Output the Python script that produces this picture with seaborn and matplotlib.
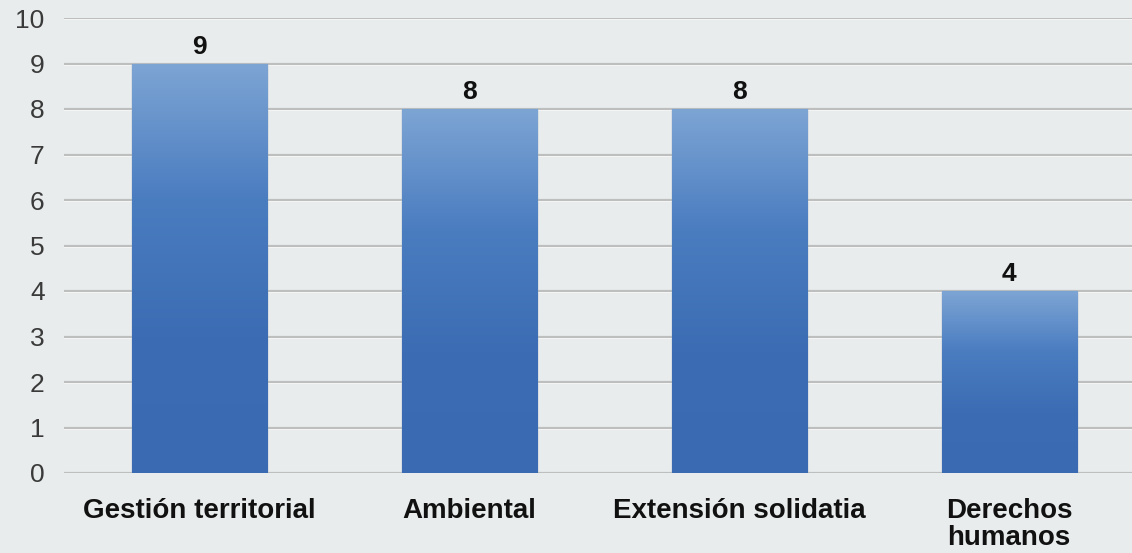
import numpy as np
import pandas as pd
import matplotlib
matplotlib.use("Agg")
import matplotlib.pyplot as plt
import seaborn as sns
from matplotlib.colors import LinearSegmentedColormap

categories = ["Gestión territorial", "Ambiental", "Extensión solidatia", "Derechos\nhumanos"]
values = [9, 8, 8, 4]
yticks = list(range(0, 11))

sns.set_theme(style="white")
plt.rcParams['font.family'] = ['Liberation Sans', 'DejaVu Sans']

bg = "#e8ecec"
fig = plt.figure(figsize=(11.32, 5.53), dpi=100, facecolor=bg)
ax = fig.add_axes([64/1132, 1 - 473/553, (1132 - 64)/1132, (473 - 18)/553])
ax.set_facecolor(bg)

df = pd.DataFrame({"cat": categories, "val": values})
sns.barplot(data=df, x="cat", y="val", ax=ax, width=0.5, color="#4a7bbf",
            edgecolor="#8fa8c8", linewidth=1, zorder=3)

cmap = LinearSegmentedColormap.from_list("g", ["#7da5d4", "#4a7cc0", "#3c6db4", "#3a6ab1"])
grad = np.linspace(0, 1, 256).reshape(-1, 1)
for p in ax.patches:
    x0, y0 = p.get_x(), p.get_y()
    w, h = p.get_width(), p.get_height()
    im = ax.imshow(grad, cmap=cmap, extent=[x0, x0 + w, y0, y0 + h],
                   aspect="auto", zorder=3.5, interpolation="bicubic")
    im.set_clip_path(p)
    ax.text(x0 + w / 2, h + 0.1, f"{int(h)}", ha="center", va="bottom",
            fontsize=19, fontweight="bold", color="#111111", zorder=5)

ax.set_xlim(-0.5, 3.455)
ax.set_ylim(0, 10)
ax.set_yticks(yticks)
for t in yticks:
    ax.axhline(t, color="#bdbfbf", linewidth=1.6, zorder=1)
    ax.axhline(t - 0.03, color="#ffffff", linewidth=1.2, zorder=0.9)
ax.set_xlabel("")
ax.set_ylabel("")
for s in ax.spines.values():
    s.set_visible(False)
ax.tick_params(axis="y", length=0, labelsize=19, labelcolor="#3a3a3a", pad=14)
ax.tick_params(axis="x", length=0, labelsize=20, pad=18)
for lab in ax.get_xticklabels():
    lab.set_fontweight("bold")
    lab.set_color("#111111")
    lab.set_linespacing(1.05)
    lab.set_verticalalignment("top")

fig.savefig("out.png", dpi=100, facecolor=bg)
